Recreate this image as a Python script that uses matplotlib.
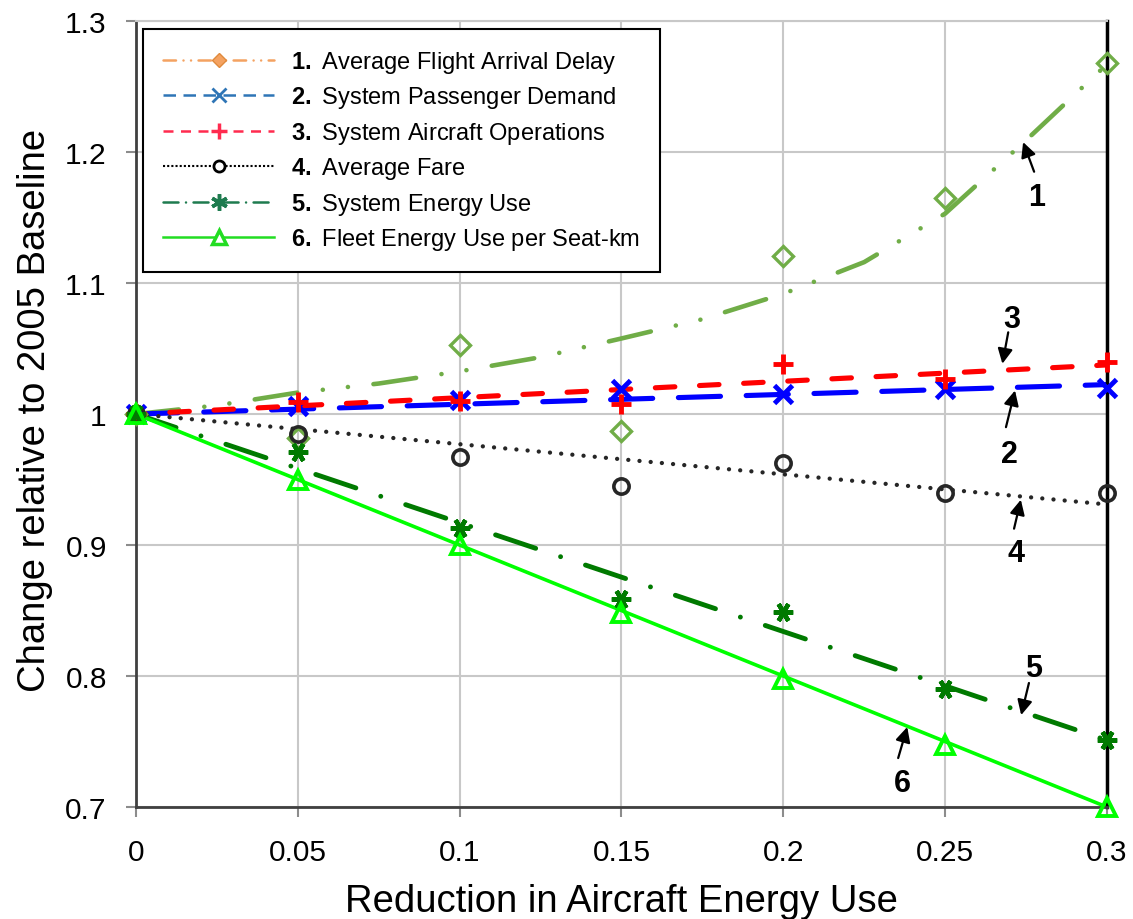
"""
Change relative to the 2005 baseline as aircraft energy use is reduced.
"""

import matplotlib
matplotlib.use('Agg')
import matplotlib.pyplot as plt
from matplotlib.lines import Line2D

plt.rcParams['font.family'] = ['Liberation Sans', 'DejaVu Sans']
plt.rcParams['mathtext.fontset'] = 'custom'
plt.rcParams['mathtext.rm'] = 'Liberation Sans'
plt.rcParams['mathtext.bf'] = 'Liberation Sans:bold'

# model results (markers)
x = [0, 0.05, 0.1, 0.15, 0.2, 0.25, 0.3]
delay = [1.0, 0.982, 1.053, 0.987, 1.121, 1.165, 1.268]
demand = [1.0, 1.006, 1.011, 1.019, 1.015, 1.019, 1.020]
operations = [1.0, 1.009, 1.010, 1.008, 1.038, 1.027, 1.040]
fare = [1.0, 0.985, 0.967, 0.945, 0.963, 0.940, 0.940]
energy = [1.0, 0.971, 0.913, 0.859, 0.849, 0.790, 0.751]
seat_km = [1.0, 0.950, 0.900, 0.848, 0.798, 0.747, 0.700]

# trend lines
delay_trend_x = [0, 0.025, 0.05, 0.075, 0.1, 0.125, 0.15, 0.175, 0.2, 0.225,
                 0.25, 0.275, 0.3]
delay_trend = [1.0, 1.0066, 1.0164, 1.0233, 1.0326, 1.0434, 1.0577, 1.0724,
               1.0918, 1.116, 1.153, 1.209, 1.267]
trend_x = [0, 0.3]
demand_trend = [1.0, 1.0225]
operations_trend = [1.0, 1.0375]
fare_trend = [1.0, 0.931]
energy_trend = [1.0, 0.751]
seat_km_trend = [1.0, 0.700]

labels = ['Average Flight Arrival Delay', 'System Passenger Demand',
          'System Aircraft Operations', 'Average Fare', 'System Energy Use',
          'Fleet Energy Use per Seat-km']

x_ticks = [0, 0.05, 0.1, 0.15, 0.2, 0.25, 0.3]
x_ticklabels = ['0', '0.05', '0.1', '0.15', '0.2', '0.25', '0.3']
y_ticks = [0.7, 0.8, 0.9, 1.0, 1.1, 1.2, 1.3]
y_ticklabels = ['0.7', '0.8', '0.9', '1', '1.1', '1.2', '1.3']

# callout numbers: (label, text pos, arrow tail, arrow tip)
callouts = [
    ('1', (0.2782, 1.166), (0.2775, 1.185), (0.2741, 1.2076)),
    ('2', (0.2700, 0.9695), (0.2688, 0.990), (0.2716, 1.018)),
    ('3', (0.2705, 1.0725), (0.2695, 1.0624), (0.2677, 1.0384)),
    ('4', (0.2718, 0.894), (0.2713, 0.9125), (0.2734, 0.9346)),
    ('5', (0.2772, 0.806), (0.2759, 0.7947), (0.2735, 0.7702)),
    ('6', (0.2367, 0.7183), (0.2355, 0.7374), (0.2383, 0.7611)),
]

fig = plt.figure(figsize=(11.33, 9.2), dpi=100)
ax = fig.add_axes([0.1200, 0.1217, 0.8570, 0.8543])

c1 = '#70AD47'
c5 = '#007A00'

# trend lines
ax.plot(delay_trend_x, delay_trend, color=c1, lw=3.3, dash_capstyle='round',
        linestyle=(0, (9.4, 5.6, 0.01, 5.5, 0.01, 5.6)), zorder=2)
ax.plot(trend_x, demand_trend, color='#0000FF', lw=3.7, dash_capstyle='round',
        linestyle=(0, (8.2, 5.0)), zorder=2)
ax.plot(trend_x, operations_trend, color='#FF0000', lw=3.7,
        dash_capstyle='round', linestyle=(2, (3.8, 4.8)), zorder=2)
ax.plot(trend_x, fare_trend, color='#262626', lw=3.1, dash_capstyle='round',
        linestyle=(0, (0.01, 2.6)), zorder=2)
ax.plot(trend_x, energy_trend, color=c5, lw=3.5, dash_capstyle='round',
        linestyle=(0, (8.7, 5.4, 0.01, 5.4)), zorder=2)
ax.plot(trend_x, seat_km_trend, color='#00FF00', lw=2.6, zorder=2)

# data markers
ax.plot(x, delay, ls='none', marker='D', ms=10, mfc='none', mec=c1, mew=2.4,
        clip_on=False, zorder=3)
ax.plot(x, demand, ls='none', marker='x', ms=13, mec='#0000FF', mew=3.5,
        clip_on=False, zorder=3)
ax.plot(x, operations, ls='none', marker='+', ms=15, mec='#FF0000', mew=3.5,
        clip_on=False, zorder=3)
ax.plot(x, fare, ls='none', marker='o', ms=11, mfc='none', mec='#262626',
        mew=2.6, clip_on=False, zorder=3)
ax.plot(x, energy, ls='none', marker=(6, 2, 90), ms=14, mec=c5, mew=3.2,
        clip_on=False, zorder=3)
ax.plot(x, seat_km, ls='none', marker='^', ms=13, mfc='none', mec='#00FF00',
        mew=2.8, clip_on=False, zorder=3)

# callouts
for num, txt, tail, tip in callouts:
    ax.annotate('', xy=tip, xytext=tail,
                arrowprops=dict(arrowstyle='-|>,head_length=0.6,head_width=0.3',
                                color='black', lw=1.6, mutation_scale=15,
                                shrinkA=0, shrinkB=0), zorder=4)
    ax.text(txt[0], txt[1], num, fontsize=22, fontweight='bold',
            ha='center', va='center', zorder=4)

# axes styling
ax.set_xlim(0, 0.3)
ax.set_ylim(0.7, 1.3)
ax.set_xticks(x_ticks)
ax.set_xticklabels(x_ticklabels)
ax.set_yticks(y_ticks)
ax.set_yticklabels(y_ticklabels)
ax.tick_params(labelsize=21.5, length=7, width=1.5, color='#8C8C8C',
               direction='out')
ax.tick_params(axis='x', pad=15)
ax.tick_params(axis='y', pad=14)
ax.grid(True, color='#C8C8C8', lw=1.5)
ax.set_axisbelow(True)
ax.spines['left'].set_color('#404040')
ax.spines['left'].set_linewidth(2)
ax.spines['bottom'].set_color('#404040')
ax.spines['bottom'].set_linewidth(2)
ax.spines['right'].set_color('black')
ax.spines['right'].set_linewidth(2.5)
ax.spines['top'].set_color('#C8C8C8')
ax.spines['top'].set_linewidth(1.5)

fig.text(0.5485, 0.0087, 'Reduction in Aircraft Energy Use', fontsize=27.5,
         ha='center', va='baseline')
fig.text(0.031, 0.554, 'Change relative to 2005 Baseline', fontsize=27.5,
         rotation=90, ha='center', va='center')

# legend (colours as in the original legend box)
handles = [
    Line2D([], [], color='#F4A261', lw=1.8, dash_capstyle='round',
           linestyle=(0, (5, 3, 0.01, 3, 0.01, 3)), marker='D', ms=7,
           mfc='#F4A261', mec='#E08A3C'),
    Line2D([], [], color='#2E75B6', lw=1.8, linestyle=(0, (5, 3)),
           marker='x', ms=10, mew=2),
    Line2D([], [], color='#FF2B4F', lw=1.8, linestyle=(0, (4, 3)),
           marker='+', ms=12, mew=2.5),
    Line2D([], [], color='black', lw=1.5, linestyle=(0, (1, 1)),
           marker='o', ms=8, mfc='white', mec='black', mew=2),
    Line2D([], [], color='#1E7B4F', lw=1.8, dash_capstyle='round',
           linestyle=(0, (6, 3, 0.01, 3)), marker=(6, 2, 0), ms=12, mew=2.5),
    Line2D([], [], color='#22DD22', lw=1.8, marker='^', ms=10,
           mfc='white', mec='#22DD22', mew=2.5),
]
leg_labels = ['$\\mathbf{%d.}$ %s' % (i + 1, s) for i, s in enumerate(labels)]
leg = ax.legend(handles, leg_labels, loc='upper left',
                bbox_to_anchor=(0.0072, 0.99), borderaxespad=0,
                fontsize=17, handlelength=4.7, handletextpad=0.7,
                labelspacing=0.4, borderpad=0.85, fancybox=False,
                framealpha=1, edgecolor='black')
leg.get_frame().set_linewidth(1.5)
leg.set_zorder(5)

fig.savefig('out.png', dpi=100)
